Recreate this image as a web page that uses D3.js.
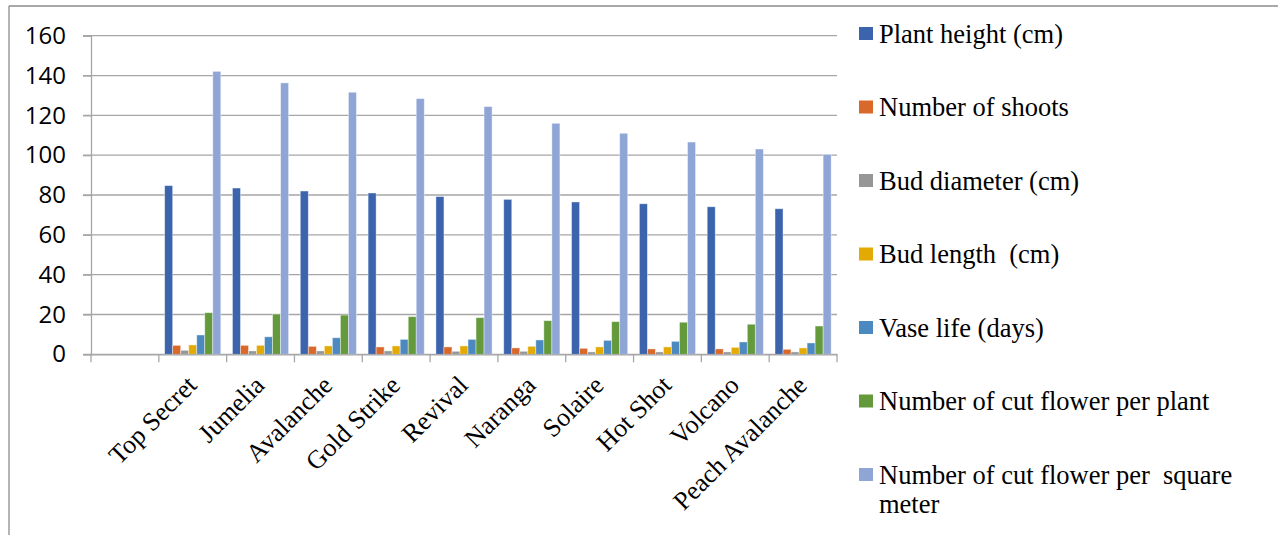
<!DOCTYPE html>
<html>
<head>
<meta charset="utf-8">
<script src="https://cdn.jsdelivr.net/npm/d3@7"></script>
<style>
  html, body { margin: 0; padding: 0; background: #fff; }
  svg { display: block; }
</style>
</head>
<body>
<div id="chart"></div>
<script>
// categories (first slot is empty in the original)
const cultivars = ["", "Top Secret", "Jumelia", "Avalanche", "Gold Strike", "Revival",
  "Naranga", "Solaire", "Hot Shot", "Volcano", "Peach Avalanche"];

const seriesNames = ["Plant height (cm)", "Number of shoots", "Bud diameter (cm)",
  "Bud length  (cm)", "Vase life (days)", "Number of cut flower per plant",
  "Number of cut flower per  square meter"];

const plantHeight   = [null, 84.7, 83.5, 82.0, 81.0, 79.2, 77.8, 76.5, 75.6, 74.1, 73.1];
const shoots        = [null, 4.5, 4.5, 4.0, 3.7, 3.7, 3.2, 3.0, 2.7, 2.7, 2.5];
const budDiameter   = [null, 2.0, 1.7, 1.7, 1.7, 1.5, 1.5, 1.2, 1.2, 1.2, 1.2];
const budLength     = [null, 4.7, 4.5, 4.2, 4.2, 4.2, 4.0, 3.7, 3.7, 3.5, 3.2];
const vaseLife      = [null, 9.7, 8.8, 8.3, 7.5, 7.5, 7.2, 7.0, 6.5, 6.2, 5.7];
const flowersPlant  = [null, 20.9, 20.2, 19.7, 18.9, 18.4, 16.9, 16.4, 16.1, 15.1, 14.2];
const flowersSqM    = [null, 142.1, 136.3, 131.6, 128.4, 124.4, 116.0, 111.0, 106.6, 103.1, 100.4];

const yTicks = [0, 20, 40, 60, 80, 100, 120, 140, 160];

const seriesValues = [plantHeight, shoots, budDiameter, budLength, vaseLife, flowersPlant, flowersSqM];
const colors = ["#3C64AD", "#D9692B", "#969696", "#E3AA04", "#4C89C0", "#649A3C", "#8EA5D5"];

const width = 1278, height = 535;
const plot = { left: 91, right: 837, top: 35.7, bottom: 354.3 };
const serif = "'Liberation Serif', 'Times New Roman', serif";

const svg = d3.select("#chart").append("svg")
  .attr("width", width)
  .attr("height", height);

// outer frame (top and left edges visible)
svg.append("line").attr("x1", 9).attr("y1", 6).attr("x2", width).attr("y2", 6)
  .attr("stroke", "#8c8c8c").attr("stroke-width", 1.3);
svg.append("line").attr("x1", 9).attr("y1", 6).attr("x2", 9).attr("y2", height)
  .attr("stroke", "#8c8c8c").attr("stroke-width", 1.3);

const x0 = d3.scaleBand().domain(cultivars.map((d, i) => i))
  .range([plot.left, plot.right]).padding(0);
const x1 = d3.scaleBand().domain(d3.range(seriesNames.length))
  .range([x0.bandwidth() * 0.086, x0.bandwidth() * (1 - 0.086)]).padding(0);
const y = d3.scaleLinear().domain([0, 160]).range([plot.bottom, plot.top]);

// gridlines
svg.append("g").selectAll("line").data(yTicks).join("line")
  .attr("x1", plot.left - 8).attr("x2", plot.right)
  .attr("y1", d => y(d)).attr("y2", d => y(d))
  .attr("stroke", "#a6a6a6").attr("stroke-width", 1.3);

// y axis
const yAxis = svg.append("g")
  .attr("transform", `translate(${plot.left},0)`)
  .call(d3.axisLeft(y).tickValues(yTicks).tickSize(8).tickPadding(17));
yAxis.select(".domain").attr("stroke", "#a6a6a6").attr("stroke-width", 1.3);
yAxis.selectAll(".tick line").attr("stroke", "#a6a6a6").attr("stroke-width", 1.3);
yAxis.selectAll("text")
  .attr("fill", "#000")
  .style("font-family", "'Open Sans', 'Liberation Sans', sans-serif")
  .style("font-size", "24px");

// bars
const groups = svg.append("g").selectAll("g").data(cultivars).join("g")
  .attr("transform", (d, i) => `translate(${x0(i)},0)`);
groups.selectAll("rect")
  .data((d, i) => seriesValues.map((vals, s) => ({ s: s, v: vals[i] })).filter(e => e.v != null))
  .join("rect")
  .attr("x", e => x1(e.s))
  .attr("width", x1.bandwidth())
  .attr("y", e => y(e.v))
  .attr("height", e => y(0) - y(e.v))
  .attr("fill", e => colors[e.s])
  .attr("stroke", "#ffffff")
  .attr("stroke-opacity", 0.5)
  .attr("stroke-width", 0.8);

// x axis
const xAxis = svg.append("g")
  .attr("transform", `translate(0,${plot.bottom})`)
  .call(d3.axisBottom(x0).tickValues([]).tickSizeOuter(0));
xAxis.select(".domain").attr("stroke", "#a6a6a6").attr("stroke-width", 1.3);
// category boundary ticks
xAxis.append("g").selectAll("line")
  .data(d3.range(cultivars.length + 1))
  .join("line")
  .attr("x1", i => i < cultivars.length ? x0(i) : plot.right)
  .attr("x2", i => i < cultivars.length ? x0(i) : plot.right)
  .attr("y1", 0).attr("y2", 8)
  .attr("stroke", "#a6a6a6").attr("stroke-width", 1.3);
// rotated category labels
xAxis.append("g").selectAll("text")
  .data(cultivars.map((c, i) => ({ c, i })).filter(d => d.c !== ""))
  .join("text")
  .attr("transform", d => `translate(${x0(d.i) + x0.bandwidth() / 2 - 1},${26}) rotate(-45)`)
  .attr("text-anchor", "end")
  .attr("dy", "0.35em")
  .attr("fill", "#000")
  .style("font-family", serif)
  .style("font-size", "26px")
  .text(d => d.c);

// legend
const legend = svg.append("g").attr("transform", "translate(859,0)");
const legendItems = legend.selectAll("g").data(seriesNames).join("g")
  .attr("transform", (d, i) => `translate(0,${33.5 + i * 73.5})`);
legendItems.append("rect")
  .attr("x", 0).attr("y", -6.5).attr("width", 14).attr("height", 13)
  .attr("fill", (d, i) => colors[i]);
legendItems.each(function (d, i) {
  const lines = i === seriesNames.length - 1
    ? ["Number of cut flower per\u00a0\u00a0square", "meter"]
    : [d.replace(/  /g, "\u00a0\u00a0")];
  lines.forEach((line, k) => {
    d3.select(this).append("text")
      .attr("x", 20)
      .attr("y", k * 29)
      .attr("dy", "0.35em")
      .attr("fill", "#000")
      .style("font-family", serif)
      .style("font-size", "26.5px")
      .text(line);
  });
});
</script>
</body>
</html>
